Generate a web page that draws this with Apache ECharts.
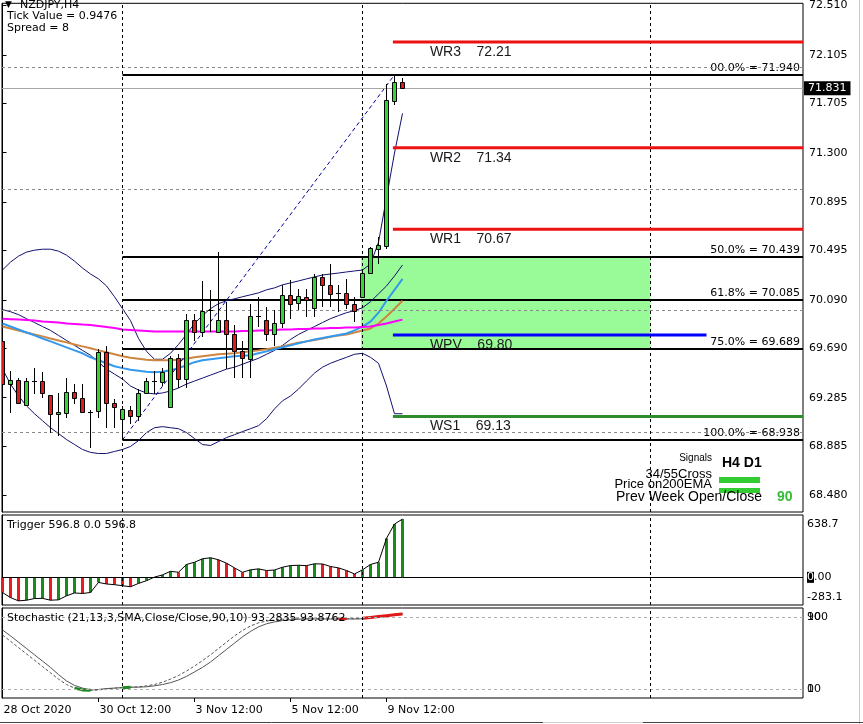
<!DOCTYPE html>
<html><head><meta charset="utf-8"><title>NZDJPY H4</title>
<script src="https://cdn.jsdelivr.net/npm/echarts@6.0.0/dist/echarts.min.js"></script>
<style>html,body{margin:0;padding:0;background:#fff;}#chart{width:863px;height:724px;}</style>
</head><body><div id="chart"></div>
<script>
// ================= DATA =================
const openP  = [69.748,69.397,69.430,69.226,69.421,69.421,69.307,69.152,69.161,69.332,69.283,69.169,69.169,69.658,69.242,69.112,69.185,69.136,69.324,69.421,69.413,69.209,69.609,69.438,69.927,69.829,70.009,69.829,69.927,69.805,69.666,69.609,69.960,69.927,69.813,69.903,70.131,70.066,70.115,70.025,70.278,70.212,70.147,70.147,70.057,70.115,70.310,70.506,70.539,71.729,71.884];
const highP  = [69.772,69.503,69.446,69.446,69.527,69.495,69.310,69.324,69.446,69.397,69.397,69.185,69.682,69.707,69.275,69.218,69.218,69.356,69.446,69.503,69.527,69.625,69.642,69.976,69.976,70.245,70.172,70.481,70.074,69.886,69.748,70.057,70.115,70.033,70.009,70.212,70.253,70.180,70.180,70.302,70.302,70.384,70.212,70.261,70.115,70.343,70.522,70.604,71.868,71.940,71.917];
const lowP   = [69.299,69.161,69.235,69.220,69.316,69.283,68.997,68.973,69.120,69.234,69.165,68.875,69.120,69.038,69.038,68.938,69.071,69.095,69.316,69.316,69.381,69.205,69.364,69.364,69.748,69.788,69.829,69.813,69.519,69.446,69.446,69.446,69.870,69.748,69.707,69.854,69.935,70.009,69.951,69.951,70.033,70.033,69.992,70.017,69.911,70.110,70.305,70.384,70.506,71.688,71.825];
const closeP = [69.397,69.430,69.242,69.421,69.418,69.324,69.152,69.169,69.332,69.283,69.169,69.166,69.658,69.242,69.209,69.193,69.136,69.324,69.421,69.424,69.495,69.609,69.438,69.927,69.829,70.000,70.005,69.927,69.813,69.666,69.609,69.960,69.957,69.813,69.903,70.131,70.057,70.123,70.090,70.278,70.212,70.139,70.144,70.057,70.000,70.310,70.514,70.539,71.737,71.884,71.831];

const bbUpper  = [70.335,70.400,70.449,70.482,70.498,70.506,70.506,70.490,70.457,70.408,70.351,70.302,70.262,70.204,70.115,70.017,69.919,69.772,69.666,69.601,69.601,69.650,69.723,69.805,69.895,69.960,70.017,70.058,70.082,70.098,70.115,70.131,70.147,70.172,70.188,70.213,70.229,70.245,70.262,70.278,70.294,70.302,70.310,70.319,70.327,70.335,70.384,70.563,70.930,71.297,71.623];
const bbMiddle = [70.009,69.992,69.968,69.935,69.903,69.870,69.838,69.797,69.756,69.715,69.674,69.634,69.577,69.520,69.479,69.438,69.381,69.348,69.324,69.316,69.324,69.340,69.365,69.397,69.422,69.446,69.471,69.495,69.520,69.536,69.560,69.585,69.609,69.642,69.674,69.715,69.764,69.805,69.838,69.870,69.903,69.935,69.960,69.984,70.001,70.025,70.074,70.139,70.204,70.286,70.376];
const bbLower  = [69.520,69.397,69.299,69.218,69.153,69.096,69.038,68.990,68.941,68.900,68.859,68.835,68.826,68.826,68.843,68.859,68.884,68.932,68.998,69.038,69.047,69.038,69.030,68.998,68.949,68.900,68.892,68.924,68.957,68.981,69.006,69.030,69.055,69.112,69.193,69.259,69.299,69.356,69.422,69.487,69.536,69.568,69.593,69.617,69.642,69.650,69.617,69.568,69.381,69.153,69.153];

const maMagenta = [69.935,69.931,69.927,69.923,69.919,69.911,69.907,69.903,69.895,69.891,69.886,69.882,69.874,69.866,69.858,69.846,69.842,69.838,69.834,69.829,69.829,69.829,69.829,69.829,69.829,69.829,69.829,69.829,69.829,69.829,69.834,69.834,69.838,69.838,69.842,69.846,69.846,69.850,69.850,69.854,69.854,69.858,69.858,69.862,69.862,69.866,69.870,69.882,69.895,69.911,69.927];
const maOrange  = [69.870,69.854,69.838,69.821,69.805,69.789,69.772,69.756,69.740,69.723,69.707,69.691,69.674,69.658,69.642,69.626,69.613,69.605,69.597,69.593,69.593,69.593,69.597,69.605,69.617,69.626,69.634,69.642,69.646,69.650,69.658,69.666,69.674,69.683,69.695,69.707,69.723,69.736,69.748,69.760,69.772,69.785,69.797,69.805,69.821,69.838,69.854,69.895,69.952,70.017,70.082];
const maBlue    = [69.895,69.870,69.846,69.821,69.797,69.772,69.748,69.723,69.699,69.674,69.650,69.617,69.593,69.568,69.544,69.528,69.515,69.507,69.499,69.495,69.499,69.511,69.528,69.552,69.577,69.593,69.601,69.609,69.617,69.626,69.630,69.634,69.650,69.666,69.683,69.699,69.715,69.732,69.748,69.764,69.776,69.789,69.801,69.813,69.838,69.870,69.911,69.984,70.082,70.172,70.262];

const triggerVals = [-155,-207,-241,-234,-217,-215,-234,-230,-189,-160,-165,-155,-52,-68,-75,-86,-96,-62,-34,3,25,62,52,132,155,190,201,180,145,97,52,77,87,70,75,104,121,124,120,139,137,111,97,70,35,77,132,155,400,546,596.8];

const stochMain   = [70,63,56,49,42,35,28,21,15,11,9,8.5,9,10,11,11.5,12,12.5,13.5,15,17.5,21,25,30,35.5,41.5,48,55,62,69,75,80,83.5,85.5,86.5,87.5,88,88,88,88,88,88,88,88,88,88.5,89.5,90.5,91.5,92.5,93.28];
const stochSignal = [75.6,69,62,55,48,41,34,26,19,14,11,9,9.5,10.5,11,11.5,12,12,12.5,13.5,15,17,20,24,29,34,40,47,54,61,68,74,79,82.5,84.5,86,87,87.5,87.8,87.8,87.8,87.8,87.8,87.8,87.8,88,88.8,90,91.3,92.6,93.88];
const stochOversold   = [null,null,null,null,null,null,null,null,null,11,9,8.5,null,null,null,11.5,12,null,null,null,null,null,null,null,null,null,null,null,null,null,null,null,null,null,null,null,null,null,null,null,null,null,null,null,null,null,null,null,null,null,null];
const stochOverbought = [null,null,null,null,null,null,null,null,null,null,null,null,null,null,null,null,null,null,null,null,null,null,null,null,null,null,null,null,null,null,null,null,null,null,null,null,null,null,null,null,null,null,88,88,null,88.5,89.5,90.5,91.5,92.5,93.28];

const priceTicks = [72.510,72.105,71.705,71.300,70.895,70.495,70.090,69.690,69.285,68.885,68.480];
const priceGridLevels = [72,71,70,69];
const separatorBars = [15,45,81];
const timeLabelBars = [0,12,24,36,48];
const timeLabels = ['28 Oct 2020','30 Oct 12:00','3 Nov 12:00','5 Nov 12:00','9 Nov 12:00'];
const timeTickBars = [12,24,36,48];

const fibNames  = ['00.0%','50.0%','61.8%','75.0%','100.0%'];
const fibValues = [71.940,70.439,70.085,69.689,68.938];
const fibStartBar = 15;
const fibSwingBars = [15,49];
const fibSwingValues = [68.938,71.940];

const pivotNames  = ['WR3','WR2','WR1','WPV','WS1'];
const pivotValues = [72.21,71.34,70.67,69.80,69.13];
const pivotStartBar = 48.8;
const pivotEndBars = [null,null,null,88,null]; // null = to the right edge

const zoneBars = [44.8,81];
const zoneValues = [70.439,69.689];
const bidPrice = 71.831;

const triggerTicks = [638.7,0,-283.1];
const triggerTickLabels = ['638.7','0.00','-283.1'];
const stochLevels = [90,10];
const stochLevelLabelsA = ['90','10'];
const stochLevelLabelsB = ['100','0'];

// ================= STYLE / LAYOUT =================
const FONT = '"DejaVu Sans", Verdana, sans-serif';
const ARIAL = '"Liberation Sans", Arial, sans-serif';
const X_MIN = -0.0625, X_MAX = 100.0625;
const UP = '#33d633', DN = '#dd1c1c';
const TRIG_UP = '#1a8a1a', TRIG_DN = '#e81e1e';
const pivotColor = {WR3:'#ee1111', WR2:'#ee1111', WR1:'#ee1111', WPV:'#0000ff', WS1:'#2e8b2e'};

const idx = openP.map((_, i) => i);
const pairs = arr => arr.map((v, i) => [i, v]);

const chart = echarts.init(document.getElementById('chart'), null, {renderer:'canvas', width:863, height:724});

const gridsDef = [
  {left:2, right:60, top:-1, height:513},
  {left:2, right:60, top:515, height:90},
  {left:2, right:60, top:608, height:90}
].map(g => Object.assign(g, {show:true, borderColor:'#000', borderWidth:1, backgroundColor:'transparent'}));

function xAxisFor(gi) {
  const base = {type:'value', gridIndex:gi, min:X_MIN, max:X_MAX, splitLine:{show:false},
    axisLine:{show:false}, axisTick:{show:false}, axisLabel:{show:false}};
  if (gi === 2) {
    base.axisTick = {show:true, customValues:timeTickBars, length:4, lineStyle:{color:'#000'}};
    base.axisLabel = {show:true, customValues:timeLabelBars, color:'#000', fontFamily:FONT, fontSize:11,
      align:'left', margin:7, padding:[0,0,0,1],
      formatter: v => timeLabels[timeLabelBars.indexOf(v)]};
  }
  return base;
}

const sepMarks = separatorBars.map(b => ({xAxis:b, lineStyle:{color:'#000', type:[3,3], width:1}}));

const series = [
  // green zone
  {type:'custom', xAxisIndex:0, yAxisIndex:0, z:1, clip:true, silent:true,
    data:[[zoneBars[0], zoneBars[1], zoneValues[0], zoneValues[1]]],
    renderItem(p, api) {
      const a = api.coord([api.value(0), api.value(2)]);
      const b = api.coord([api.value(1), api.value(3)]);
      return {type:'rect', shape:{x:a[0], y:a[1], width:b[0]-a[0], height:b[1]-a[1]}, style:{fill:'#98fb98'}};
    }},
  // fib horizontal levels
  {type:'custom', xAxisIndex:0, yAxisIndex:0, z:3, clip:false, silent:true,
    data: fibValues.map((v, i) => [fibStartBar, v, i]),
    renderItem(p, api) {
      const i = api.value(2), v = api.value(1);
      const a = api.coord([api.value(0), v]);
      const b = api.coord([X_MAX, v]);
      const y = Math.round(a[1]);
      return {type:'group', children:[
        {type:'line', shape:{x1:a[0], y1:y, x2:b[0], y2:y}, style:{stroke:'#000', lineWidth:2}},
        {type:'text', x:b[0]-3, y:y-7, style:{text: fibNames[i] + ' = ' + v.toFixed(3), font:'11px ' + FONT, fill:'#000', align:'right', verticalAlign:'middle'}}
      ]};
    }},
  // bollinger bands + grid lines
  {type:'line', xAxisIndex:0, yAxisIndex:0, z:4, data:pairs(bbUpper), symbol:'none', lineStyle:{color:'#101070', width:1}},
  {type:'line', xAxisIndex:0, yAxisIndex:0, z:4, data:pairs(bbMiddle), symbol:'none', lineStyle:{color:'#101070', width:1},
    markLine:{silent:true, symbol:'none', label:{show:false}, animation:false,
      data:[...priceGridLevels.map(v => ({yAxis:v, lineStyle:{color:'#8a8a8a', type:[3,3], width:1}})), ...sepMarks]}},
  {type:'line', xAxisIndex:0, yAxisIndex:0, z:4, data:pairs(bbLower), symbol:'none', lineStyle:{color:'#101070', width:1}},
  // moving averages
  {type:'line', xAxisIndex:0, yAxisIndex:0, z:4, data:pairs(maOrange), symbol:'none', lineStyle:{color:'#cd853f', width:2}},
  {type:'line', xAxisIndex:0, yAxisIndex:0, z:4, data:pairs(maBlue), symbol:'none', lineStyle:{color:'#3399ee', width:2}},
  {type:'line', xAxisIndex:0, yAxisIndex:0, z:4, data:pairs(maMagenta), symbol:'none', lineStyle:{color:'#ff00ff', width:2}},
  // fib swing line
  {type:'line', xAxisIndex:0, yAxisIndex:0, z:4, data:fibSwingBars.map((b, i) => [b, fibSwingValues[i]]), symbol:'none',
    lineStyle:{color:'#0000a0', width:1, type:[4,3]}},
  // candles
  {type:'custom', xAxisIndex:0, yAxisIndex:0, z:6, clip:true,
    data: idx.map(i => [i, openP[i], highP[i], lowP[i], closeP[i]]),
    renderItem(p, api) {
      const k = api.value(0), o = api.value(1), h = api.value(2), l = api.value(3), c = api.value(4);
      const pO = api.coord([k, o]), pC = api.coord([k, c]), pH = api.coord([k, h]), pL = api.coord([k, l]);
      const x = pO[0];
      const top = Math.min(pO[1], pC[1]), bot = Math.max(pO[1], pC[1]);
      const ch = [{type:'line', shape:{x1:x, y1:Math.round(pH[1]), x2:x, y2:Math.round(pL[1])}, style:{stroke:'#000', lineWidth:1}}];
      if (bot - top < 1.5) {
        const yy = Math.round(top) + 0.5;
        ch.push({type:'line', shape:{x1:x-2.5, y1:yy, x2:x+2.5, y2:yy}, style:{stroke:'#000', lineWidth:1}});
      } else {
        ch.push({type:'rect', shape:{x:x-2, y:Math.round(top)+0.5, width:4, height:Math.round(bot-top)},
          style:{fill: c >= o ? UP : DN, stroke:'#000', lineWidth:1}});
      }
      return {type:'group', children:ch};
    },
    markLine:{silent:true, symbol:'none', animation:false,
      data:[{yAxis:bidPrice}],
      lineStyle:{color:'#a8a8a8', type:'solid', width:1},
      label:{show:true, position:'end', distance:1, formatter: () => bidPrice.toFixed(3),
        backgroundColor:'#000', color:'#fff', padding:[2,4,1,4], fontFamily:FONT, fontSize:11}}},
  // pivot lines
  {type:'custom', xAxisIndex:0, yAxisIndex:0, z:7, clip:false, silent:true,
    data: pivotValues.map((v, i) => [pivotStartBar, pivotEndBars[i] == null ? X_MAX : pivotEndBars[i], v, i]),
    renderItem(p, api) {
      const i = api.value(3), v = api.value(2);
      const a = api.coord([api.value(0), v]);
      const b = api.coord([api.value(1), v]);
      const name = pivotNames[i];
      return {type:'group', children:[
        {type:'line', shape:{x1:a[0], y1:a[1], x2:b[0], y2:b[1]}, style:{stroke:pivotColor[name], lineWidth:3}},
        {type:'text', x:a[0]+37, y:a[1]+10, style:{text: name + '    ' + v.toFixed(2), font:'14px ' + ARIAL, fill:'#1a1a1a', verticalAlign:'middle'}}
      ]};
    }},
  // trigger histogram
  {type:'bar', xAxisIndex:1, yAxisIndex:1, z:3, barWidth:3,
    data: triggerVals.map((v, i) => ({value:[i, v], itemStyle:{color: (i === 0 || v < triggerVals[i-1]) ? TRIG_DN : TRIG_UP}})),
    markLine:{silent:true, symbol:'none', label:{show:false}, animation:false,
      data:[{yAxis:0, lineStyle:{color:'#000', type:'solid', width:1}}, ...sepMarks]}},
  {type:'line', xAxisIndex:1, yAxisIndex:1, z:4, data:pairs(triggerVals), symbol:'none', lineStyle:{color:'#000', width:1}},
  // stochastic
  {type:'line', xAxisIndex:2, yAxisIndex:2, z:3, data:pairs(stochSignal), symbol:'none', lineStyle:{color:'#555', width:1},
    markLine:{silent:true, symbol:'none', label:{show:false}, animation:false,
      data:[...stochLevels.map(v => ({yAxis:v, lineStyle:{color:'#b0b0b0', type:[3,3], width:1}})), ...sepMarks]}},
  {type:'line', xAxisIndex:2, yAxisIndex:2, z:3, data:pairs(stochMain), symbol:'none', lineStyle:{color:'#555', width:1, type:[3,2]}},
  {type:'line', xAxisIndex:2, yAxisIndex:2, z:4, data:pairs(stochOversold), symbol:'none', connectNulls:false, lineStyle:{color:'#1e8c1e', width:3}},
  {type:'line', xAxisIndex:2, yAxisIndex:2, z:4, data:pairs(stochOverbought), symbol:'none', connectNulls:false, lineStyle:{color:'#e01818', width:3}}
];

const axisLabelBase = {color:'#000', fontFamily:FONT, fontSize:11};

const option = {
  animation:false,
  backgroundColor:'#fff',
  grid: gridsDef,
  xAxis: [xAxisFor(0), xAxisFor(1), xAxisFor(2)],
  yAxis: [
    {type:'value', gridIndex:0, position:'right', min:68.345, max:72.528, splitLine:{show:false},
      axisLine:{show:true, lineStyle:{color:'#000'}},
      axisTick:{show:true, customValues:priceTicks, length:4, lineStyle:{color:'#000'}},
      axisLabel:Object.assign({customValues:priceTicks, margin:6, formatter: v => v.toFixed(3)}, axisLabelBase)},
    {type:'value', gridIndex:1, position:'right', min:-283.1, max:638.7, splitLine:{show:false},
      axisLine:{show:true, lineStyle:{color:'#000'}}, axisTick:{show:false},
      axisLabel:Object.assign({customValues:triggerTicks, margin:4,
        formatter: (v) => {
          const i = triggerTicks.indexOf(v);
          const t = triggerTickLabels[i];
          if (i === 0) return '{top|' + t + '}';
          if (i === 2) return '{bot|' + t + '}';
          return '{hl|' + t.charAt(0) + '}{n|' + t.slice(1) + '}';
        },
        rich:{
          top:{padding:[18,0,0,0], fontFamily:FONT, fontSize:11, color:'#000'},
          bot:{padding:[0,0,16,0], fontFamily:FONT, fontSize:11, color:'#000'},
          hl:{backgroundColor:'#000', color:'#fff', fontFamily:FONT, fontSize:11},
          n:{fontFamily:FONT, fontSize:11, color:'#000'}
        }}, axisLabelBase)},
    {type:'value', gridIndex:2, position:'right', min:0, max:100, splitLine:{show:false},
      axisLine:{show:true, lineStyle:{color:'#000'}}, axisTick:{show:false},
      axisLabel:Object.assign({customValues:stochLevels, margin:4, formatter: v => stochLevelLabelsB[stochLevels.indexOf(v)]}, axisLabelBase)},
    {type:'value', gridIndex:2, position:'right', min:0, max:100, splitLine:{show:false},
      axisLine:{show:false}, axisTick:{show:false},
      axisLabel:Object.assign({customValues:stochLevels, margin:4, formatter: v => stochLevelLabelsA[stochLevels.indexOf(v)]}, axisLabelBase)}
  ],
  series: series,
  graphic: [
    {type:'text', x:5, y:5, z:50, style:{text:'▼', font:'9px ' + FONT, fill:'#000', verticalAlign:'middle'}},
    {type:'text', x:20, y:5, z:50, style:{text:'NZDJPY,H4', font:'11px ' + FONT, fill:'#000', verticalAlign:'middle'}},
    {type:'text', x:7, y:16, z:50, style:{text:'Tick Value = 0.9476', font:'11px ' + FONT, fill:'#000', verticalAlign:'middle'}},
    {type:'text', x:7, y:28, z:50, style:{text:'Spread = 8', font:'11px ' + FONT, fill:'#000', verticalAlign:'middle'}},
    {type:'text', x:7, y:525, z:50, style:{text:'Trigger 596.8 0.0 596.8', font:'11px ' + FONT, fill:'#000', verticalAlign:'middle'}},
    {type:'text', x:7, y:618, z:50, style:{text:'Stochastic (21,13,3,SMA,Close/Close,90,10) 93.2835 93.8762', font:'11px ' + FONT, fill:'#000', verticalAlign:'middle'}},
    // signals panel
    {type:'text', x:712, y:458, z:50, style:{text:'Signals', font:'10px ' + ARIAL, fill:'#000', align:'right', verticalAlign:'middle'}},
    {type:'text', x:722, y:463, z:50, style:{text:'H4 D1', font:'bold 14px ' + ARIAL, fill:'#000', verticalAlign:'middle'}},
    {type:'text', x:712, y:474, z:50, style:{text:'34/55Cross', font:'13px ' + ARIAL, fill:'#000', align:'right', verticalAlign:'middle'}},
    {type:'text', x:712, y:484, z:50, style:{text:'Price on200EMA', font:'13px ' + ARIAL, fill:'#000', align:'right', verticalAlign:'middle'}},
    {type:'rect', z:49, shape:{x:719, y:477, width:41, height:6}, style:{fill:'#33cc33'}},
    {type:'rect', z:49, shape:{x:719, y:488, width:41, height:5}, style:{fill:'#33cc33'}},
    {type:'text', x:762, y:497, z:50, style:{text:'Prev Week Open/Close', font:'14px ' + ARIAL, fill:'#000', align:'right', verticalAlign:'middle'}},
    {type:'text', x:777, y:497, z:50, style:{text:'90', font:'bold 14px ' + ARIAL, fill:'#33bb33', verticalAlign:'middle'}},
    // window edges
    {type:'line', z:50, shape:{x1:859.5, y1:0, x2:859.5, y2:724}, style:{stroke:'#c8c8c8', lineWidth:1}},
    {type:'line', z:50, shape:{x1:0, y1:722.5, x2:543, y2:722.5}, style:{stroke:'#444', lineWidth:1}},
    {type:'line', z:50, shape:{x1:543, y1:722.5, x2:643, y2:722.5}, style:{stroke:'#d0d0d0', lineWidth:1}},
    {type:'line', z:50, shape:{x1:643, y1:722.5, x2:863, y2:722.5}, style:{stroke:'#444', lineWidth:1}}
  ]
};
chart.setOption(option);
</script>
</body></html>
